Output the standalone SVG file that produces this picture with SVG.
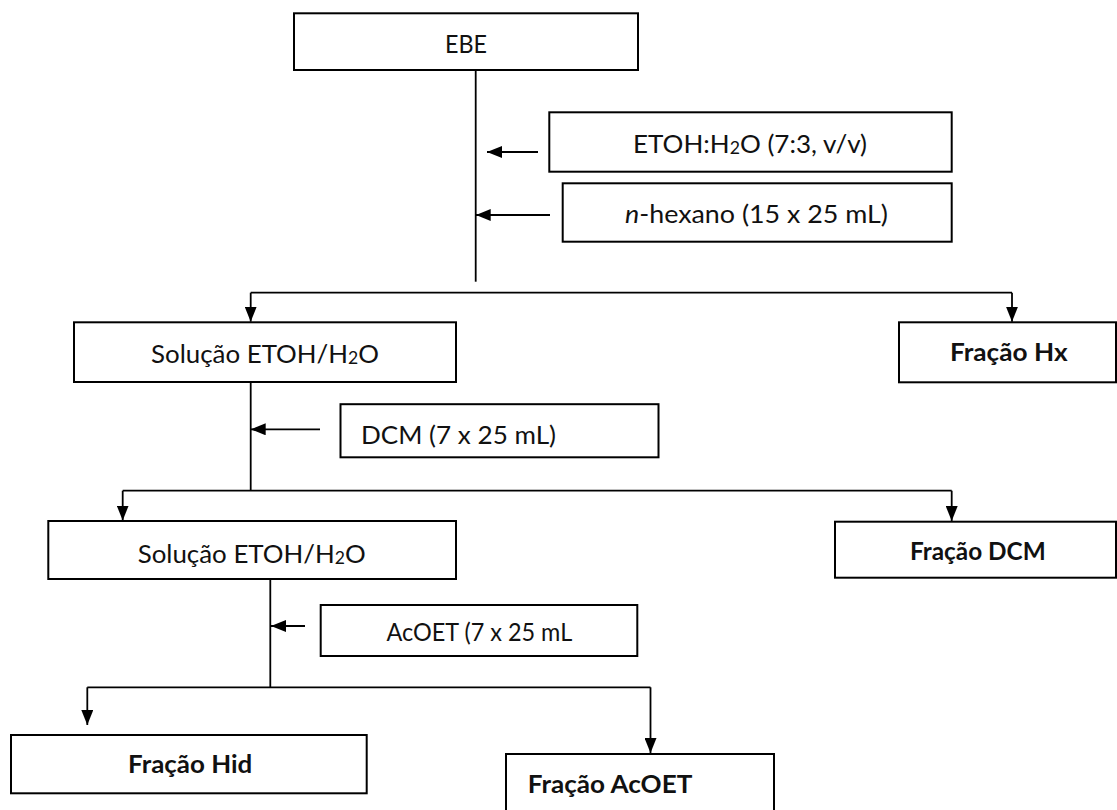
<svg xmlns="http://www.w3.org/2000/svg" width="1117" height="810" viewBox="0 0 1117 810">
<defs>
<marker id="ah" viewBox="0 0 15 12" refX="15" refY="6" markerWidth="15" markerHeight="12" markerUnits="userSpaceOnUse" orient="auto">
<path d="M0,0 L15,6 L0,12 Z" fill="#000"/>
</marker>
<style>
.box{fill:#fff;stroke:#000;stroke-width:2}
.t{font-family:Lato,"Open Sans","Liberation Sans",sans-serif;font-size:25px;fill:#111}
.b{font-weight:bold}
.ln{fill:none;stroke:#000;stroke-width:1.8}
.ar{fill:none;stroke:#000;stroke-width:1.8;marker-end:url(#ah)}
.sub{font-size:17px}
</style>
</defs>
<rect width="1117" height="810" fill="#fff"/>
<g id="connectors">
<line class="ln" x1="475.7" y1="70" x2="475.7" y2="281.7"/>
<line class="ar" x1="538" y1="152" x2="487" y2="152"/>
<line class="ar" x1="550" y1="215" x2="475.7" y2="215"/>
<line class="ln" x1="250.7" y1="292.7" x2="1012" y2="292.7"/>
<line class="ar" x1="250.7" y1="292.7" x2="250.7" y2="321.7"/>
<line class="ar" x1="1012" y1="292.7" x2="1012" y2="321.7"/>
<line class="ln" x1="250.7" y1="382" x2="250.7" y2="490.7"/>
<line class="ar" x1="320" y1="429.3" x2="250.7" y2="429.3"/>
<line class="ln" x1="122.7" y1="490.7" x2="951.7" y2="490.7"/>
<line class="ar" x1="122.7" y1="490.7" x2="122.7" y2="520.5"/>
<line class="ar" x1="951.7" y1="490.7" x2="951.7" y2="521"/>
<line class="ln" x1="270.3" y1="579" x2="270.3" y2="687.3"/>
<line class="ar" x1="305" y1="626" x2="271" y2="626"/>
<line class="ln" x1="87.3" y1="687.3" x2="650.5" y2="687.3"/>
<line class="ar" x1="87.3" y1="687.3" x2="87.3" y2="725"/>
<line class="ar" x1="650.5" y1="687.3" x2="650.5" y2="753"/>
</g>
<g id="n-ebe">
<rect class="box" x="294" y="13.3" width="344" height="56.7"/>
<text class="t" x="445" y="53" textLength="42" lengthAdjust="spacingAndGlyphs">EBE</text>
</g>
<g id="n-etoh">
<rect class="box" x="549.3" y="112.3" width="402.4" height="59.4"/>
<text class="t" x="633" y="153.3" textLength="234" lengthAdjust="spacingAndGlyphs">ETOH:H<tspan class="sub" dy="1">2</tspan><tspan dy="-1">O (7:3, v/v)</tspan></text>
</g>
<g id="n-hexano">
<rect class="box" x="562.7" y="183.3" width="389" height="58.4"/>
<text class="t" x="625" y="223" textLength="263" lengthAdjust="spacingAndGlyphs"><tspan font-style="italic">n</tspan>-hexano (15 x 25 mL)</text>
</g>
<g id="n-solucao1">
<rect class="box" x="74" y="322.3" width="382" height="59.7"/>
<text class="t" x="151" y="363.3" textLength="228" lengthAdjust="spacingAndGlyphs">Solução ETOH/H<tspan class="sub" dy="1">2</tspan><tspan dy="-1">O</tspan></text>
</g>
<g id="n-hx">
<rect class="box" x="899" y="322.3" width="217" height="60"/>
<text class="t b" x="950" y="361" textLength="117.7" lengthAdjust="spacingAndGlyphs">Fração Hx</text>
</g>
<g id="n-dcm">
<rect class="box" x="340.5" y="404.2" width="318" height="53.1"/>
<text class="t" x="361" y="444" textLength="195" lengthAdjust="spacingAndGlyphs">DCM (7 x 25 mL)</text>
</g>
<g id="n-solucao2">
<rect class="box" x="48.3" y="521" width="407.7" height="58"/>
<text class="t" x="137.7" y="563" textLength="228" lengthAdjust="spacingAndGlyphs">Solução ETOH/H<tspan class="sub" dy="1">2</tspan><tspan dy="-1">O</tspan></text>
</g>
<g id="n-fdcm">
<rect class="box" x="835" y="521.7" width="281" height="56"/>
<text class="t b" x="910" y="560" textLength="135.7" lengthAdjust="spacingAndGlyphs">Fração DCM</text>
</g>
<g id="n-acoet">
<rect class="box" x="320.7" y="605" width="316.6" height="51"/>
<text class="t" x="386.5" y="641" textLength="185.7" lengthAdjust="spacingAndGlyphs">AcOET (7 x 25 mL</text>
</g>
<g id="n-hid">
<rect class="box" x="11" y="735" width="355.7" height="58.3"/>
<text class="t b" x="128" y="773.3" textLength="124.3" lengthAdjust="spacingAndGlyphs">Fração Hid</text>
</g>
<g id="n-facoet">
<rect class="box" x="506" y="754" width="268" height="62"/>
<text class="t b" x="527.7" y="793" textLength="164.6" lengthAdjust="spacingAndGlyphs">Fração AcOET</text>
</g>
</svg>
